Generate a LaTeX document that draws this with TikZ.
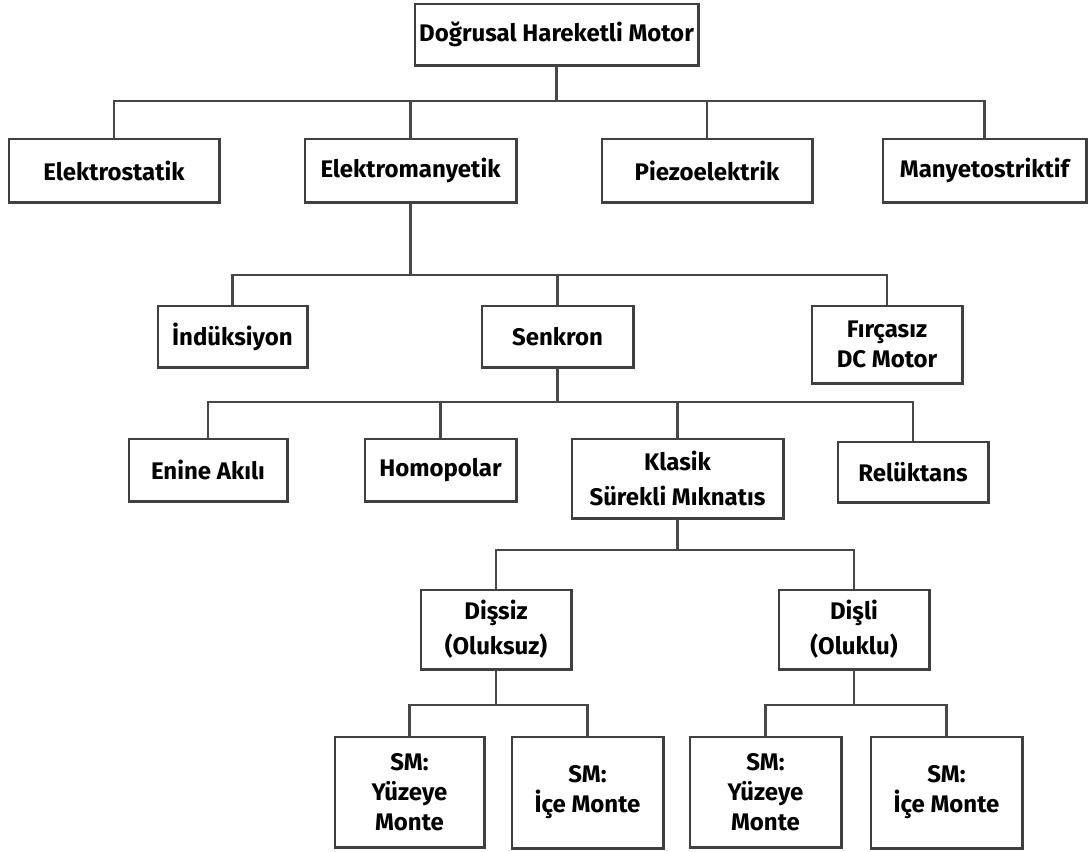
\documentclass[tikz,border=0pt]{standalone}
\usepackage{fontspec}
\setmainfont{Fira Sans}
\begin{document}
\begin{tikzpicture}[x=1pt,y=-1pt,
  box/.style={draw=black!75, line width=1.3pt, fill=white, inner sep=0pt, align=center,
    font=\fontsize{24}{30}\selectfont\bfseries},
  shadowedge/.style={draw=black!75, line width=2.4pt},
  conn/.style={draw=black!72, line width=2.2pt}]
\useasboundingbox (0,0) rectangle (1088,852);
% level 1
\node[box, minimum width=283pt, minimum height=61pt] (top) at (556.5,34.5) {Doğrusal Hareketli Motor};
% level 2
\node[box, minimum width=210pt, minimum height=63pt] (elst) at (114,170.5) {Elektrostatik};
\node[box, minimum width=211pt, minimum height=63pt] (elm) at (410.5,170.5) {Elektromanyetik};
\node[box, minimum width=210pt, minimum height=63pt] (piezo) at (707,170.5) {Piezoelektrik};
\node[box, minimum width=203pt, minimum height=63pt] (mang) at (984.5,170.5) {Manyetostriktif};
% level 3
\node[box, minimum width=149pt, minimum height=61pt] (ind) at (232.5,336.5) {İndüksiyon};
\node[box, minimum width=151pt, minimum height=61pt] (senk) at (557.5,336.5) {Senkron};
\node[box, minimum width=150pt, minimum height=77pt] (fir) at (887,344.5) {Fırçasız\\DC Motor};
% level 4
\node[box, minimum width=158pt, minimum height=62pt] (enine) at (208,470) {Enine Akılı};
\node[box, minimum width=151pt, minimum height=62pt] (homo) at (440.5,470) {Homopolar};
\node[box, minimum width=211pt, minimum height=79pt] (klasik) at (677.5,478.5) {Klasik\\[5pt]Sürekli Mıknatıs};
\node[box, minimum width=150pt, minimum height=60pt] (rel) at (913,472) {Relüktans};
% level 5
\node[box, minimum width=150pt, minimum height=79pt] (dissiz) at (496,629.5) {Dişsiz\\[5pt](Oluksuz)};
\node[box, minimum width=150pt, minimum height=79pt] (disli) at (854,629.5) {Dişli\\[5pt](Oluklu)};
% level 6
\node[box, minimum width=149pt, minimum height=110pt] (sma) at (409.5,792) {SM:\\Yüzeye\\Monte};
\node[box, minimum width=151pt, minimum height=111pt] (smb) at (587.5,792.5) {SM:\\İçe Monte};
\node[box, minimum width=151pt, minimum height=110pt] (smc) at (765.5,792) {SM:\\Yüzeye\\Monte};
\node[box, minimum width=151pt, minimum height=111pt] (smd) at (946.5,792.5) {SM:\\İçe Monte};
% shadow edges
\foreach \n in {top,elst,elm,piezo,mang,ind,senk,fir,enine,homo,klasik,rel,dissiz,disli,sma,smb,smc,smd}
  \draw[shadowedge] (\n.north east) -- (\n.south east) -- (\n.south west);
% bus levels
\coordinate (b1) at (0,101);
\coordinate (b2) at (0,275);
\coordinate (b3) at (0,402);
\coordinate (b4) at (0,550);
\coordinate (b5) at (0,705);
% connectors
\draw[conn] (top.south) -- (top.south |- b1);
\draw[conn] (elst.north) |- (mang.north |- b1) -- (mang.north);
\draw[conn] (elm.north) -- (elm.north |- b1);
\draw[conn] (piezo.north) -- (piezo.north |- b1);
\draw[conn] (elm.south) -- (elm.south |- b2);
\draw[conn] (ind.north) |- (fir.north |- b2) -- (fir.north);
\draw[conn] (senk.north) -- (senk.north |- b2);
\draw[conn] (senk.south) -- (senk.south |- b3);
\draw[conn] (enine.north) |- (rel.north |- b3) -- (rel.north);
\draw[conn] (homo.north) -- (homo.north |- b3);
\draw[conn] (klasik.north) -- (klasik.north |- b3);
\draw[conn] (klasik.south) -- (klasik.south |- b4);
\draw[conn] (dissiz.north) |- (disli.north |- b4) -- (disli.north);
\draw[conn] (dissiz.south) -- (dissiz.south |- b5);
\draw[conn] (sma.north) |- (smb.north |- b5) -- (smb.north);
\draw[conn] (disli.south) -- (disli.south |- b5);
\draw[conn] (smc.north) |- (smd.north |- b5) -- (smd.north);
\end{tikzpicture}
\end{document}
